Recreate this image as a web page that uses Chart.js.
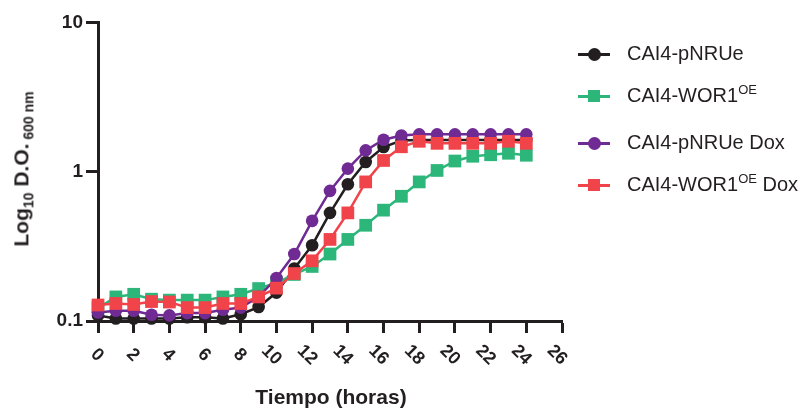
<!DOCTYPE html>
<html lang="es">
<head>
<meta charset="UTF-8">
<title>Curva de crecimiento</title>
<script src="https://cdn.jsdelivr.net/npm/chart.js@4.4.1/dist/chart.umd.min.js"></script>
<style>
    body { margin: 0; background: #fff; font-family: "Liberation Sans", Arial, sans-serif; color: #231f20; }
    .wrap { position: relative; width: 808px; height: 411px; }
    #growth { position: absolute; left: 0; top: 0; }
    .ytitle { position: absolute; left: 23px; top: 169px; transform: translate(-50%, -50%) rotate(-90deg);
              font-weight: bold; font-size: 21px; white-space: nowrap; }
    .ytitle sub { font-size: 14px; }
    .xtitle { position: absolute; left: 331px; top: 397px; transform: translate(-50%, -50%);
              font-weight: bold; font-size: 21px; white-space: nowrap; }
    .row { position: absolute; left: 578px; height: 0; white-space: nowrap; }
    .row .ln { position: absolute; left: 0; top: -1.5px; width: 32px; height: 3px; }
    .row .mk { position: absolute; left: 10px; top: -6px; width: 12px; height: 12px; }
    .row .mk.dot { border-radius: 50%; left: 9.5px; top: -6.5px; width: 13px; height: 13px; }
    .row .txt { position: absolute; left: 49px; top: -13px; font-size: 20px; line-height: 24px; }
    .row sup { font-size: 13px; line-height: 0; }
</style>
</head>
<body>
<div class="wrap">
    <canvas id="growth" width="808" height="411"></canvas>
    <div class="ytitle">Log<sub>10</sub> D.O.<sub> 600 nm</sub></div>
    <div class="xtitle">Tiempo (horas)</div>
    <div id="legend"></div>
</div>

<script>
    // horas de cultivo
    const hours = [0, 1, 2, 3, 4, 5, 6, 7, 8, 9, 10, 11, 12, 13, 14, 15, 16, 17, 18, 19, 20, 21, 22, 23, 24];

    // D.O. 600 nm
    const pNRUe = [0.109, 0.104, 0.104, 0.104, 0.104, 0.106, 0.106, 0.104, 0.111, 0.124, 0.155, 0.225, 0.322,
                   0.53, 0.825, 1.163, 1.465, 1.62, 1.63, 1.63, 1.63, 1.63, 1.63, 1.63, 1.63];
    const wor1 = [0.122, 0.145, 0.151, 0.14, 0.138, 0.138, 0.138, 0.145, 0.151, 0.165, 0.18, 0.205, 0.232,
                  0.281, 0.352, 0.438, 0.553, 0.685, 0.855, 1.02, 1.18, 1.27, 1.3, 1.33, 1.29];
    const pNRUeDox = [0.114, 0.117, 0.117, 0.11, 0.109, 0.113, 0.113, 0.119, 0.123, 0.145, 0.194, 0.281, 0.469,
                      0.744, 1.05, 1.39, 1.64, 1.75, 1.78, 1.78, 1.78, 1.78, 1.78, 1.78, 1.78];
    const wor1Dox = [0.128, 0.131, 0.129, 0.135, 0.134, 0.123, 0.123, 0.131, 0.131, 0.145, 0.166, 0.208, 0.253,
                     0.352, 0.53, 0.855, 1.19, 1.47, 1.6, 1.55, 1.55, 1.55, 1.55, 1.6, 1.55];

    const seriesNames = ['CAI4-pNRUe', 'CAI4-WOR1<sup>OE</sup>', 'CAI4-pNRUe Dox', 'CAI4-WOR1<sup>OE</sup> Dox'];
    const xTicks = [0, 2, 4, 6, 8, 10, 12, 14, 16, 18, 20, 22, 24, 26];
    const yTicks = [0.1, 1, 10];

    const ink = '#231f20';
    const series = [
        { values: pNRUe,    color: '#231f20', style: 'circle', order: 3 },
        { values: wor1,     color: '#2db67a', style: 'rect',   order: 2 },
        { values: pNRUeDox, color: '#702a93', style: 'circle', order: 1 },
        { values: wor1Dox,  color: '#f0434a', style: 'rect',   order: 0 }
    ];

    // leyenda en HTML (superindices)
    const legendTops = [54, 96, 143, 185];
    document.getElementById('legend').innerHTML = series.map((s, i) =>
        '<div class="row" style="top:' + legendTops[i] + 'px">' +
        '<span class="ln" style="background:' + s.color + '"></span>' +
        '<span class="mk' + (s.style === 'circle' ? ' dot' : '') + '" style="background:' + s.color + '"></span>' +
        '<span class="txt">' + seriesNames[i] + '</span></div>'
    ).join('');

    // etiquetas del eje x giradas 45 grados
    const xLabels = {
        id: 'xLabels',
        afterDraw(chart) {
            const sc = chart.scales.x, ctx = chart.ctx;
            ctx.save();
            ctx.font = 'bold 18px "Liberation Sans"';
            ctx.fillStyle = ink;
            ctx.textAlign = 'center';
            ctx.textBaseline = 'middle';
            xTicks.forEach(v => {
                const s = String(v);
                const x = sc.getPixelForValue(v) - (s.length > 1 ? 5 : 1);
                ctx.save();
                ctx.translate(x, sc.top + 34);
                ctx.rotate(Math.PI / 4);
                ctx.fillText(s, 0, 0);
                ctx.restore();
            });
            ctx.restore();
        }
    };

    new Chart(document.getElementById('growth'), {
        type: 'line',
        data: {
            datasets: series.map((s, i) => ({
                label: seriesNames[i],
                data: hours.map((h, j) => ({ x: h, y: s.values[j] })),
                borderColor: s.color,
                backgroundColor: s.color,
                borderWidth: 2.5,
                pointStyle: s.style,
                pointRadius: s.style === 'rect' ? 9 : 6.3,
                pointBorderWidth: 0,
                order: s.order,
                clip: false,
                tension: 0
            }))
        },
        options: {
            responsive: false,
            animation: false,
            layout: { padding: { top: 22.5, right: 246, left: 0, bottom: 0 } },
            plugins: { legend: { display: false }, tooltip: { enabled: false } },
            scales: {
                x: {
                    type: 'linear',
                    min: 0,
                    max: 26,
                    afterBuildTicks: s => { s.ticks = xTicks.map(v => ({ value: v })); },
                    afterFit: s => { s.height = 90; },
                    border: { color: ink, width: 3 },
                    grid: { drawOnChartArea: false, tickLength: 12, tickWidth: 3, tickColor: ink },
                    ticks: { color: 'rgba(0,0,0,0)', autoSkip: false, maxRotation: 0 }
                },
                y: {
                    type: 'logarithmic',
                    min: 0.1,
                    max: 10,
                    afterBuildTicks: s => { s.ticks = yTicks.map(v => ({ value: v })); },
                    afterFit: s => { s.width = 98; },
                    border: { color: ink, width: 3 },
                    grid: { drawOnChartArea: false, tickLength: 12, tickWidth: 3, tickColor: ink },
                    ticks: {
                        color: ink,
                        padding: 3,
                        font: { family: '"Liberation Sans"', size: 19, weight: 'bold' },
                        callback: v => String(v)
                    }
                }
            }
        },
        plugins: [xLabels]
    });
</script>
</body>
</html>
